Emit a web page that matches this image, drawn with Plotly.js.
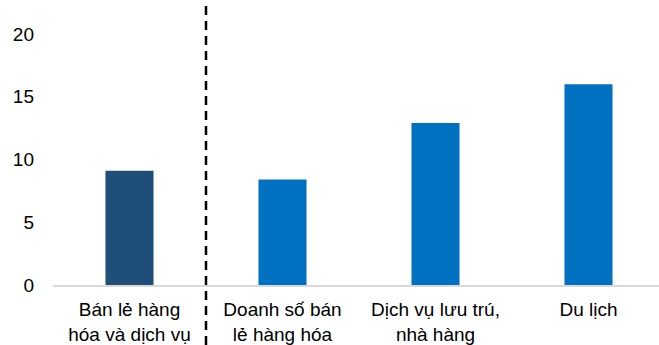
<!DOCTYPE html>
<html>
<head>
<meta charset="utf-8">
<script src="https://cdn.plot.ly/plotly-3.0.1.min.js"></script>
<style>
html, body { margin: 0; padding: 0; overflow: hidden; background: #fff; }
#chart { width: 668px; height: 345px; }
</style>
</head>
<body>
<div id="chart"></div>
<script>
const categories = [
  "Bán lẻ hàng<br>hóa và dịch vụ",
  "Doanh số bán<br>lẻ hàng hóa",
  "Dịch vụ lưu trú,<br>nhà hàng",
  "Du lịch"
];
const values = [9.1, 8.4, 12.9, 16.0];
const barColors = ["#1F4E79", "#0070C0", "#0070C0", "#0070C0"];
const yTicks = [0, 5, 10, 15, 20];

const trace = {
  type: "bar",
  x: categories,
  y: values,
  marker: { color: barColors },
  hoverinfo: "none"
};

const layout = {
  width: 668,
  height: 345,
  margin: { l: 53, r: 3, t: 34, b: 60 },
  paper_bgcolor: "#fff",
  plot_bgcolor: "#fff",
  showlegend: false,
  bargap: 0.686,
  font: { family: "Liberation Sans, Arial, sans-serif", size: 19, color: "#000" },
  xaxis: {
    type: "category",
    showline: true,
    linecolor: "#D9D9D9",
    linewidth: 2,
    showgrid: false,
    zeroline: false,
    ticks: "",
    tickfont: { size: 19, color: "#000" },
    ticklabelstandoff: 6
  },
  yaxis: {
    range: [0, 20],
    tickvals: yTicks,
    ticktext: yTicks.map(String),
    showgrid: false,
    zeroline: false,
    showline: false,
    ticks: "",
    tickfont: { size: 19, color: "#000" },
    ticklabelstandoff: 18
  },
  shapes: [{
    type: "line",
    xref: "x", yref: "paper",
    x0: 0.5, x1: 0.5,
    y0: -60 / 251, y1: 1 + 34 / 251,
    line: { color: "#000", width: 2.5, dash: "9px,6px" }
  }]
};

Plotly.newPlot("chart", [trace], layout, { displayModeBar: false, staticPlot: true });
</script>
</body>
</html>
